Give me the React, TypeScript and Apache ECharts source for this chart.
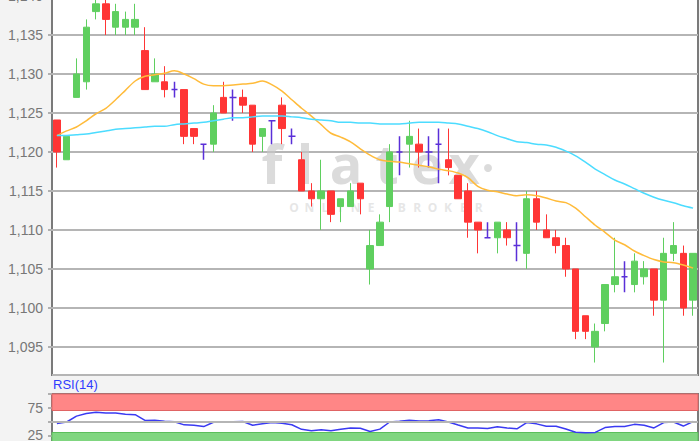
import React, { useEffect, useRef } from 'react';
import * as echarts from 'echarts';

// ---- data ----
const opens = [
  1.1241, 1.119, 1.127, 1.129, 1.138, 1.139, 1.136, 1.136, 1.136, 1.133,
  1.129, 1.129, 1.128, 1.128, 1.123, 1.121, 1.121, 1.127, 1.127, 1.127,
  1.126, 1.122, 1.124, 1.126, 1.122, 1.119, 1.115, 1.114, 1.115, 1.113,
  1.113, 1.116, 1.105, 1.108, 1.113, 1.12, 1.121, 1.121, 1.12, 1.121,
  1.119, 1.117, 1.115, 1.111, 1.109, 1.109, 1.11, 1.108, 1.107, 1.114,
  1.11, 1.109, 1.108, 1.105, 1.099, 1.095, 1.098, 1.103, 1.104, 1.103,
  1.104, 1.105, 1.101, 1.107, 1.107, 1.101,
];
const closes = [
  1.12, 1.122, 1.13, 1.136, 1.139, 1.137, 1.138, 1.137, 1.137, 1.128,
  1.13, 1.128, 1.128, 1.122, 1.122, 1.121, 1.125, 1.125, 1.127, 1.126,
  1.121, 1.123, 1.124, 1.123, 1.122, 1.115, 1.114, 1.115, 1.112, 1.114,
  1.115, 1.114, 1.108, 1.111, 1.12, 1.12, 1.122, 1.12, 1.12, 1.121,
  1.118, 1.114, 1.111, 1.11, 1.109, 1.111, 1.109, 1.108, 1.114, 1.111,
  1.109, 1.108, 1.105, 1.097, 1.097, 1.097, 1.103, 1.104, 1.104, 1.106,
  1.105, 1.101, 1.107, 1.108, 1.1, 1.107,
];
const lows = [
  1.118, 1.119, 1.127, 1.128, 1.137, 1.135, 1.135, 1.135, 1.135, 1.128,
  1.129, 1.127, 1.127, 1.121, 1.121, 1.119, 1.12, 1.125, 1.124, 1.125,
  1.12, 1.12, 1.121, 1.121, 1.121, 1.115, 1.113, 1.11, 1.111, 1.111,
  1.113, 1.112, 1.103, 1.108, 1.111, 1.117, 1.118, 1.118, 1.118, 1.116,
  1.117, 1.114, 1.109, 1.107, 1.109, 1.107, 1.108, 1.106, 1.105, 1.11,
  1.109, 1.107, 1.104, 1.096, 1.096, 1.093, 1.097, 1.102, 1.102, 1.102,
  1.103, 1.099, 1.093, 1.106, 1.099, 1.099,
];
const highs = [
  1.1241, 1.122, 1.132, 1.137, 1.14, 1.14, 1.139, 1.138, 1.139, 1.136,
  1.132, 1.131, 1.129, 1.128, 1.123, 1.121, 1.126, 1.129, 1.128, 1.128,
  1.126, 1.123, 1.124, 1.127, 1.123, 1.12, 1.116, 1.119, 1.115, 1.114,
  1.116, 1.116, 1.11, 1.112, 1.121, 1.122, 1.124, 1.123, 1.122, 1.123,
  1.123, 1.117, 1.116, 1.111, 1.111, 1.111, 1.111, 1.111, 1.115, 1.115,
  1.112, 1.11, 1.109, 1.105, 1.099, 1.098, 1.103, 1.109, 1.106, 1.107,
  1.106, 1.105, 1.109, 1.111, 1.108, 1.107,
];
const maFast = [
  1.1221, 1.1227, 1.1232, 1.124, 1.1249, 1.1256, 1.1267, 1.1279, 1.1291, 1.1297,
  1.1299, 1.1301, 1.1304, 1.13, 1.1294, 1.1287, 1.1285, 1.1285, 1.1286, 1.1287,
  1.1288, 1.1291, 1.1286, 1.1278, 1.1267, 1.1256, 1.1246, 1.1235, 1.1224, 1.1219,
  1.1213, 1.1204, 1.1196, 1.119, 1.1188, 1.1187, 1.1185, 1.1183, 1.1181, 1.1178,
  1.1176, 1.1173, 1.1167, 1.1156, 1.1151, 1.1149, 1.1146, 1.1144, 1.1145, 1.1144,
  1.1141, 1.1137, 1.1135, 1.1128, 1.1117, 1.1106, 1.1097, 1.1087, 1.1081, 1.1073,
  1.1067, 1.1062, 1.1059, 1.1058, 1.1055, 1.1051,
];
const maSlow = [
  1.1221, 1.1221, 1.1222, 1.1223, 1.1225, 1.1227, 1.1229, 1.123, 1.1231, 1.1232,
  1.1233, 1.1233, 1.1235, 1.1236, 1.1237, 1.1238, 1.124, 1.1242, 1.1244, 1.1244,
  1.1245, 1.1246, 1.1246, 1.1246, 1.1245, 1.1244, 1.1242, 1.1241, 1.124, 1.1238,
  1.1238, 1.1237, 1.1237, 1.1236, 1.1236, 1.1236, 1.1237, 1.1238, 1.1238, 1.1238,
  1.1237, 1.1236, 1.1233, 1.123, 1.1226, 1.1221, 1.1217, 1.1213, 1.1212, 1.121,
  1.1209, 1.1206, 1.1201, 1.1195, 1.1187, 1.1178, 1.1171, 1.1164, 1.1159, 1.1153,
  1.1147, 1.1142, 1.1138, 1.1135, 1.1131, 1.1128,
];
const rsi = [
  46.3, 49.1, 59.8, 64.4, 67.0, 65.6, 65.4, 63.1, 62.4, 51.9,
  52.2, 50.6, 49.4, 43.9, 43.0, 40.7, 48.7, 48.7, 49.4, 50.0,
  43.1, 45.7, 48.1, 46.9, 44.1, 35.7, 33.3, 35.2, 33.3, 36.1,
  38.3, 37.6, 31.9, 36.1, 49.1, 50.6, 52.4, 50.9, 51.3, 53.0,
  49.1, 43.5, 38.3, 38.1, 37.2, 40.4, 38.3, 36.7, 48.1, 45.7,
  41.3, 41.3, 36.5, 30.6, 29.6, 30.2, 38.9, 40.7, 41.1, 44.8,
  43.1, 38.3, 48.1, 49.1, 41.7, 50.0,
];
const categories = opens.map((_, i) => 'D' + (i + 1));
const rsiTickLabels = [25, 75];
const rsiBands = [
  [70, 100],
  [0, 30],
];

const UP = '#5fcf5f';
const DOWN = '#ff3535';
const DOJI = '#5a2fd8';

export default function App() {
  const ref = useRef<HTMLDivElement>(null);
  useEffect(() => {
    if (!ref.current) return;
    const chart = echarts.init(ref.current, undefined, { renderer: 'svg' });

    const candleData = opens.map((o, i) => {
      const item: any = { value: [o, closes[i], lows[i], highs[i]] };
      if (o === closes[i]) {
        item.itemStyle = {
          color: DOJI, color0: DOJI, borderColor: DOJI, borderColor0: DOJI,
          borderColorDoji: DOJI, borderWidth: 1.5,
        };
      }
      return item;
    });

    const fmt = (v: number) => v.toFixed(3).replace('.', ',');

    const wmLetters = ['f', 'l', 'a', 't', 'e', 'x'];
    const wmX = [272, 305, 346, 387, 427, 464];
    const subLetters = 'ONLINE BROKER'.split('');

    const graphics: any[] = [];
    wmLetters.forEach((ch, i) => {
      graphics.push({
        type: 'text', x: wmX[i], y: 163, z: 1, silent: true,
        style: {
          text: ch, fill: 'rgba(200,200,200,0.65)',
          font: 'bold 54px "Open Sans"', lineHeight: 40,
          align: 'center', verticalAlign: 'middle',
        },
      });
    });
    graphics.push({
      type: 'circle', z: 1, silent: true, shape: { cx: 488, cy: 168, r: 4 },
      style: { fill: 'rgba(200,200,200,0.65)' },
    });
    subLetters.forEach((ch, i) => {
      graphics.push({
        type: 'text', x: 294 + i * 15.4, y: 207, z: 1, silent: true,
        style: {
          text: ch, fill: 'rgba(205,205,205,0.5)',
          font: 'bold 12px "Open Sans"', lineHeight: 12,
          align: 'center', verticalAlign: 'middle',
        },
      });
    });
    graphics.push({
      type: 'text', x: 53, y: 384, z: 5,
      style: {
        text: 'RSI(14)', fill: '#2f3cff', font: '13px "Liberation Sans"',
        align: 'left', verticalAlign: 'middle',
      },
    });

    chart.setOption({
      animation: false,
      backgroundColor: '#f3f3f3',
      grid: [
        {
          left: 52, right: 2, top: -4, height: 379, show: true,
          backgroundColor: '#ffffff', borderColor: '#7a7a7a', borderWidth: 2,
          outerBoundsMode: 'none', containLabel: false,
        },
        {
          left: 52, right: 2, top: 394, height: 55, show: true,
          backgroundColor: '#ffffff', borderColor: '#7a7a7a', borderWidth: 2,
          outerBoundsMode: 'none', containLabel: false,
        },
      ],
      xAxis: [
        { type: 'category', gridIndex: 0, data: categories, boundaryGap: true, show: false },
        { type: 'category', gridIndex: 1, data: categories, boundaryGap: true, show: false },
      ],
      yAxis: [
        {
          type: 'value', gridIndex: 0, min: 1.0914, max: 1.14, splitNumber: 10,
          axisLine: { show: false },
          axisTick: { show: true, length: 4, lineStyle: { color: '#b0b0b0', width: 2 } },
          axisLabel: {
            color: '#777', fontSize: 14, fontFamily: 'Liberation Sans', margin: 9,
            showMinLabel: false, formatter: fmt,
          },
          splitLine: { lineStyle: { color: '#b5b5b5', width: 2 } },
        },
        {
          type: 'value', gridIndex: 1, min: 0, max: 100, interval: 25,
          axisLine: { show: false },
          axisTick: { show: true, length: 4, lineStyle: { color: '#b0b0b0', width: 2 } },
          axisLabel: {
            color: '#777', fontSize: 14, fontFamily: 'Liberation Sans', margin: 9,
            formatter: (v: number) => (rsiTickLabels.indexOf(v) >= 0 ? String(v) : ''),
          },
          splitLine: { show: false },
        },
      ],
      graphic: graphics,
      series: [
        {
          type: 'candlestick', xAxisIndex: 0, yAxisIndex: 0, barWidth: 7,
          itemStyle: {
            color: UP, color0: DOWN, borderColor: UP, borderColor0: DOWN,
            borderColorDoji: DOJI, borderWidth: 1,
          },
          data: candleData, z: 3,
        },
        {
          type: 'line', xAxisIndex: 0, yAxisIndex: 0, data: maFast, symbol: 'none',
          smooth: 0.3, lineStyle: { color: '#ffbb3a', width: 1.5 }, z: 4,
        },
        {
          type: 'line', xAxisIndex: 0, yAxisIndex: 0, data: maSlow, symbol: 'none',
          smooth: 0.3, lineStyle: { color: '#4cdcff', width: 1.5 }, z: 4,
        },
        {
          type: 'line', xAxisIndex: 1, yAxisIndex: 1, data: rsi, symbol: 'none',
          lineStyle: { color: '#3a3af2', width: 1.5 }, z: 4,
          markArea: {
            silent: true,
            data: [
              [
                { yAxis: rsiBands[0][0], itemStyle: { color: '#ff8686', borderColor: '#e06464', borderWidth: 1 } },
                { yAxis: rsiBands[0][1] },
              ],
              [
                { yAxis: rsiBands[1][0], itemStyle: { color: '#80d680', borderColor: '#5cbf5c', borderWidth: 1 } },
                { yAxis: rsiBands[1][1] },
              ],
            ],
          },
          markLine: {
            silent: true, symbol: 'none', label: { show: false },
            lineStyle: { color: '#b5b5b5', width: 2, type: 'solid' },
            data: [{ yAxis: 50 }],
          },
        },
      ],
    });
    return () => chart.dispose();
  }, []);
  return (
    <div
      ref={ref}
      style={{ position: 'fixed', left: 0, top: 0, width: 700, height: 441 }}
    />
  );
}
